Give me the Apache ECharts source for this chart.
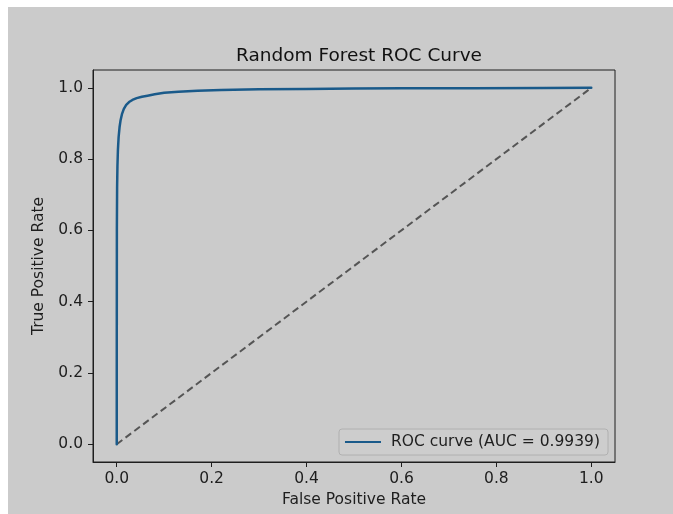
<!DOCTYPE html>
<html>
<head>
<meta charset="utf-8">
<script src="https://cdn.jsdelivr.net/npm/echarts@6/dist/echarts.min.js"></script>
<style>
    html, body { margin: 0; padding: 0; background: #ffffff; }
    #wrap { position: relative; width: 673px; height: 514px; }
    #paper { position: absolute; left: 8px; top: 7px; right: 0; bottom: 0; background: #cbcbcb; }
    #chart { position: absolute; left: 0; top: 0; width: 673px; height: 514px; }
</style>
</head>
<body>
<div id="wrap">
    <div id="paper"></div>
    <div id="chart"></div>
</div>
<script>
// ROC curve points (false positive rate, true positive rate)
const fpr = [0, 0.0001, 0.0003, 0.0008, 0.0015, 0.0025, 0.004, 0.006, 0.008, 0.011, 0.015, 0.02, 0.026, 0.033, 0.042, 0.053, 0.065, 0.08, 0.1, 0.13, 0.17, 0.22, 0.3, 0.4, 0.5, 0.6, 0.75, 0.9, 1.0]
const tpr = [0, 0.3, 0.6, 0.72, 0.78, 0.825, 0.862, 0.89, 0.908, 0.926, 0.941, 0.952, 0.96, 0.966, 0.971, 0.975, 0.978, 0.982, 0.986, 0.989, 0.992, 0.994, 0.996, 0.997, 0.998, 0.9985, 0.999, 0.9995, 1.0]
// chance line
const chanceX = [0, 1]
const chanceY = [0, 1]
const tickValues = [0, 0.2, 0.4, 0.6, 0.8, 1.0]
const aucLabel = 'ROC curve (AUC = 0.9939)'

const font = 'DejaVu Sans'
const ink = '#1e1e1e'

function pairs(xs, ys){
    let out = []
    for(let i = 0; i < xs.length; i++){
        out.push([xs[i], ys[i]])
    }
    return out
}

function axisBase(margin){
    return {
        type: 'value',
        min: -0.05,
        max: 1.05,
        splitLine: { show: false },
        axisLine: { show: true, onZero: false, lineStyle: { color: ink, width: 1 } },
        axisTick: { show: true, customValues: tickValues, length: 5, lineStyle: { color: ink } },
        axisLabel: {
            customValues: tickValues,
            color: ink,
            fontFamily: font,
            fontSize: 15.5,
            margin: margin,
            formatter: v => v.toFixed(1)
        },
        nameLocation: 'middle',
        nameTextStyle: { color: ink, fontFamily: font, fontSize: 15.5 }
    }
}

const chart = echarts.init(document.getElementById('chart'))
chart.setOption({
    animation: false,
    title: {
        text: 'Random Forest ROC Curve',
        left: 354,
        textAlign: 'center',
        top: 42,
        textStyle: { color: '#111', fontFamily: font, fontSize: 18.5, fontWeight: 'normal' }
    },
    grid: {
        left: 93, right: 58, top: 70, bottom: 52,
        show: true, borderColor: ink, borderWidth: 1, backgroundColor: 'transparent'
    },
    legend: {
        data: [{ name: aucLabel, icon: 'path://M0,0 L36,0 L36,2 L0,2 Z' }],
        right: 65,
        bottom: 59,
        padding: [5, 8, 5, 6],
        itemWidth: 36,
        itemHeight: 2,
        backgroundColor: '#cdcdcd',
        borderColor: '#b0b0b0',
        borderWidth: 1,
        borderRadius: 3,
        textStyle: { color: ink, fontFamily: font, fontSize: 15.5, lineHeight: 16, padding: [0, 0, 0, 5] }
    },
    xAxis: Object.assign(axisBase(9), {
        name: 'False Positive Rate',
        nameGap: 28
    }),
    yAxis: Object.assign(axisBase(10), {
        name: 'True Positive Rate',
        nameGap: 42
    }),
    series: [
        {
            name: aucLabel,
            type: 'line',
            data: pairs(fpr, tpr),
            symbol: 'none',
            smooth: false,
            lineStyle: { color: '#1a5a8a', width: 2.5, join: 'round', cap: 'round' },
            itemStyle: { color: '#1a5a8a' },
            z: 3
        },
        {
            name: 'chance',
            type: 'line',
            data: pairs(chanceX, chanceY),
            symbol: 'none',
            lineStyle: { color: '#555555', width: 2, type: [7, 4] },
            z: 2
        }
    ]
})
</script>
</body>
</html>
